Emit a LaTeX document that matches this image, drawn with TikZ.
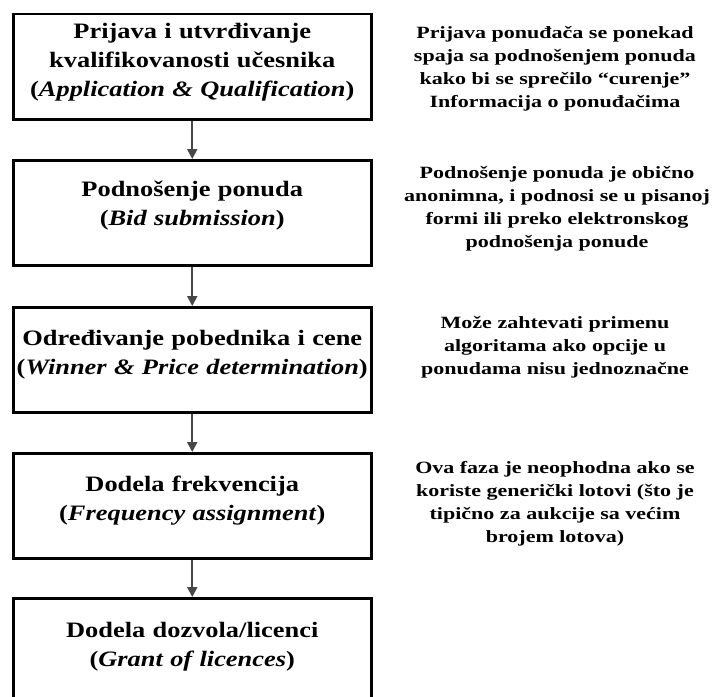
\documentclass[tikz,border=0pt]{standalone}
\usepackage{fontspec}
\setmainfont[FakeStretch=1.28]{Liberation Serif}
\newfontfamily\stagefont[FakeStretch=1.2]{Liberation Serif}
\usetikzlibrary{arrows.meta}
\begin{document}
\begin{tikzpicture}[x=1bp,y=-1bp,
 stage/.style={draw=black, line width=2.5bp, minimum width=358bp, minimum height=105bp, inner sep=0pt, anchor=north west},
 stagetext/.style={text width=356bp, inner sep=0pt, align=center, font=\stagefont\bfseries\fontsize{22bp}{29bp}\selectfont},
 note/.style={align=center, inner sep=0pt, font=\bfseries\fontsize{17.2bp}{23bp}\selectfont},
 flow/.style={draw=black!72, line width=2bp, -{Triangle[length=10bp,width=10bp]}}]
\useasboundingbox (0,0) rectangle (717,697);
\clip (0,0) rectangle (717,697);
\fill[white] (0,0) rectangle (717,697);
\node[stage] (b1) at (12,13) {};
\node[stage] (b2) at (12,159) {};
\node[stage] (b3) at (12,306) {};
\node[stage] (b4) at (12,452) {};
\node[stage, minimum height=106bp] (b5) at (12,597) {};
\node[stagetext] (t1) at ([yshift=5bp]b1.center) {Prijava i utvrđivanje\\kvalifikovanosti učesnika\\(\textit{Application \& Qualification})};
\node[stagetext] (t2) at ([yshift=7bp]b2.center) {Podnošenje ponuda\\(\textit{Bid submission})};
\node[stagetext] (t3) at ([yshift=5bp]b3.center) {Određivanje pobednika i cene\\(\textit{Winner \& Price determination})};
\node[stagetext] (t4) at ([yshift=5bp]b4.center) {Dodela frekvencija\\(\textit{Frequency assignment})};
\node[stagetext] (t5) at ([yshift=5bp]b5.center) {Dodela dozvola/licenci\\(\textit{Grant of licences})};
\draw[flow] (b1.south) -- (b2.north);
\draw[flow] (b2.south) -- (b3.north);
\draw[flow] (b3.south) -- (b4.north);
\draw[flow] (b4.south) -- (b5.north);
\node[note] (n1) at (555,69) {Prijava ponuđača se ponekad\\spaja sa podnošenjem ponuda\\kako bi se sprečilo “curenje”\\Informacija o ponuđačima};
\node[note] (n2) at (557,209) {Podnošenje ponuda je obično\\anonimna, i podnosi se u pisanoj\\formi ili preko elektronskog\\podnošenja ponude};
\node[note] (n3) at (555,347) {Može zahtevati primenu\\algoritama ako opcije u\\ponudama nisu jednoznačne};
\node[note] (n4) at (555,504) {Ova faza je neophodna ako se\\koriste generički lotovi (što je\\tipično za aukcije sa većim\\brojem lotova)};
\end{tikzpicture}
\end{document}
